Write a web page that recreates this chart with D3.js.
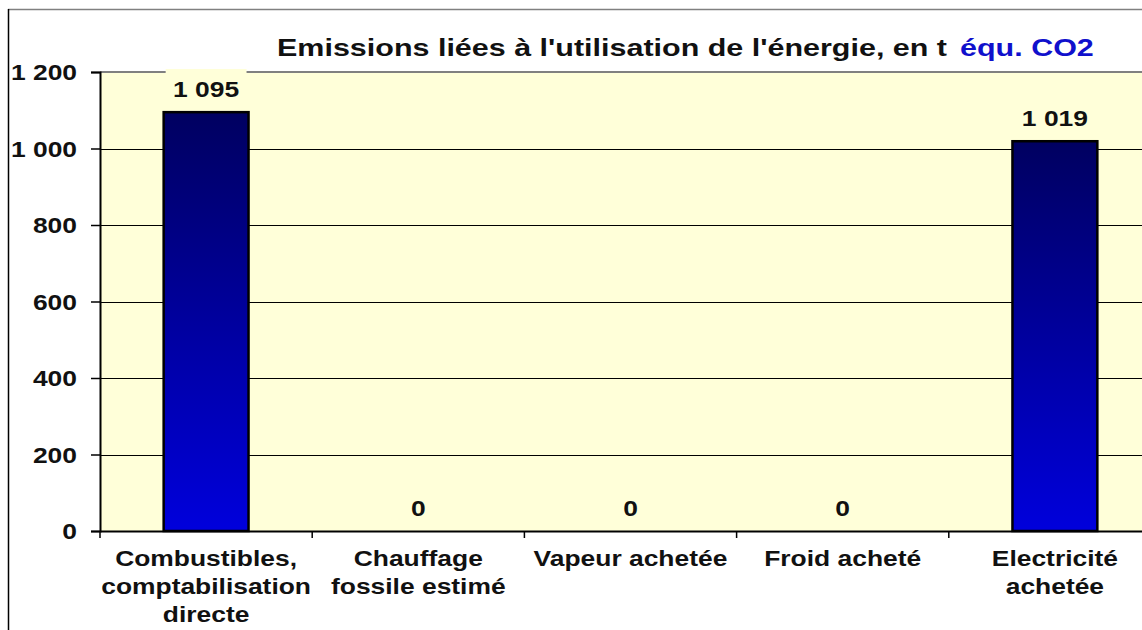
<!DOCTYPE html>
<html><head><meta charset="utf-8">
<script src="https://cdn.jsdelivr.net/npm/d3@7"></script>
<style>body{margin:0;background:#fff}svg{display:block}text{font-family:Arial,"Liberation Sans",sans-serif;font-weight:bold}</style>
</head><body>
<script>
const categories = [["Combustibles,","comptabilisation","directe"],["Chauffage","fossile estimé"],["Vapeur achetée"],["Froid acheté"],["Electricité","achetée"]];
const values = [1095, 0, 0, 0, 1019];
const valueLabels = ["1 095","0","0","0","1 019"];
const yTicks = [0,200,400,600,800,1000,1200];
const yTickLabels = ["0","200","400","600","800","1 000","1 200"];
const titleMain = "Emissions liées à l'utilisation de l'énergie, en t";
const titleUnit = "équ. CO2";

const W=1142,H=630;
const m={left:100,top:72,right:1161,bottom:531};
const FS=22, STRETCH=1.2;
const svg=d3.select("body").append("svg").attr("width",W).attr("height",H);
const defs=svg.append("defs");
const g=defs.append("linearGradient").attr("id","bg").attr("x1",0).attr("x2",0).attr("y1",0).attr("y2",1);
g.append("stop").attr("offset","0%").attr("stop-color","#000060");
g.append("stop").attr("offset","100%").attr("stop-color","#0000dc");

function stretch(sel,f){
  sel.each(function(){
    const L=this.getComputedTextLength();
    d3.select(this).attr("textLength",L*f).attr("lengthAdjust","spacingAndGlyphs");
  });
}

// outer frame
svg.append("line").attr("x1",8).attr("x2",W).attr("y1",9.5).attr("y2",9.5).attr("stroke","#808080").attr("stroke-width",1.5);
svg.append("line").attr("x1",8.5).attr("x2",8.5).attr("y1",9).attr("y2",H).attr("stroke","#000").attr("stroke-width",1.5);

const x=d3.scaleBand().domain(d3.range(categories.length)).range([m.left,m.right]).paddingInner(0.6).paddingOuter(0.3);
const xb=d3.scaleBand().domain(d3.range(categories.length)).range([m.left,m.right]);
const y=d3.scaleLinear().domain([0,1200]).range([m.bottom,m.top]);

svg.append("rect").attr("x",m.left).attr("y",m.top).attr("width",m.right-m.left).attr("height",m.bottom-m.top).attr("fill","#ffffd9");
svg.append("line").attr("x1",m.left).attr("x2",m.right).attr("y1",m.top).attr("y2",m.top).attr("stroke","#808080").attr("stroke-width",2);

// gridlines
svg.append("g").selectAll("line").data(yTicks.filter(t=>t>0&&t<1200)).join("line")
 .attr("x1",m.left).attr("x2",m.right).attr("y1",d=>Math.round(y(d))+0.5).attr("y2",d=>Math.round(y(d))+0.5).attr("stroke","#000").attr("stroke-width",1);

// bars
svg.append("g").selectAll("rect").data(values).join("rect")
 .attr("x",(d,i)=>x(i)).attr("width",x.bandwidth()).attr("y",d=>y(d)).attr("height",d=>y(0)-y(d))
 .attr("fill","url(#bg)").attr("stroke","#000").attr("stroke-width",2.5);

// value labels
const vl=svg.append("g");
values.forEach((v,i)=>{
  const cx=x(i)+x.bandwidth()/2;
  if(i===0){ vl.append("rect").attr("x",x(i)+2).attr("y",m.top-3).attr("width",x.bandwidth()-4).attr("height",8).attr("fill","#ffffd9"); }
  vl.append("text").attr("x",cx).attr("y",y(v)-15).attr("text-anchor","middle").attr("font-size",FS).attr("fill","#111").text(valueLabels[i]);
});
stretch(vl.selectAll("text"),STRETCH);

// y axis
const ya=svg.append("g").attr("transform",`translate(${m.left},0)`)
 .call(d3.axisLeft(y).tickValues(yTicks).tickFormat((d,i)=>yTickLabels[i]).tickSize(9).tickPadding(14));
ya.select(".domain").attr("stroke","#000").attr("stroke-width",2);
ya.selectAll(".tick line").attr("stroke","#000").attr("stroke-width",1.5);
ya.selectAll(".tick text").attr("font-size",FS).attr("fill","#111").attr("font-family","Arial, Liberation Sans, sans-serif").attr("font-weight","bold").attr("dy","0.36em");
stretch(ya.selectAll(".tick text"),STRETCH);

// x axis
const xa=svg.append("g").attr("transform",`translate(0,${m.bottom})`)
 .call(d3.axisBottom(xb).tickSize(0).tickFormat(""));
xa.select(".domain").attr("stroke","#000").attr("stroke-width",2);
xa.selectAll(".tick").remove();
svg.append("g").selectAll("line").data(d3.range(categories.length+1)).join("line")
 .attr("x1",i=>m.left+i*xb.step()).attr("x2",i=>m.left+i*xb.step()).attr("y1",m.bottom).attr("y2",m.bottom+7).attr("stroke","#000").attr("stroke-width",1.5);

const xl=svg.append("g");
categories.forEach((lines,i)=>{
  lines.forEach((s,j)=>xl.append("text").attr("text-anchor","middle").attr("font-size",FS).attr("fill","#111")
    .attr("x",xb(i)+xb.bandwidth()/2).attr("y",566+j*28).text(s));
});
stretch(xl.selectAll("text"),STRETCH);

// title
const tg=svg.append("g");
const t1=tg.append("text").attr("x",277).attr("y",56).attr("font-size",24).attr("fill","#111").text(titleMain);
stretch(t1,1.27);
const t1w=+t1.attr("textLength");
const t2=tg.append("text").attr("x",277+t1w+13).attr("y",56).attr("font-size",24).attr("fill","#1010cc").text(titleUnit);
stretch(t2,1.27);
</script>
</body></html>
